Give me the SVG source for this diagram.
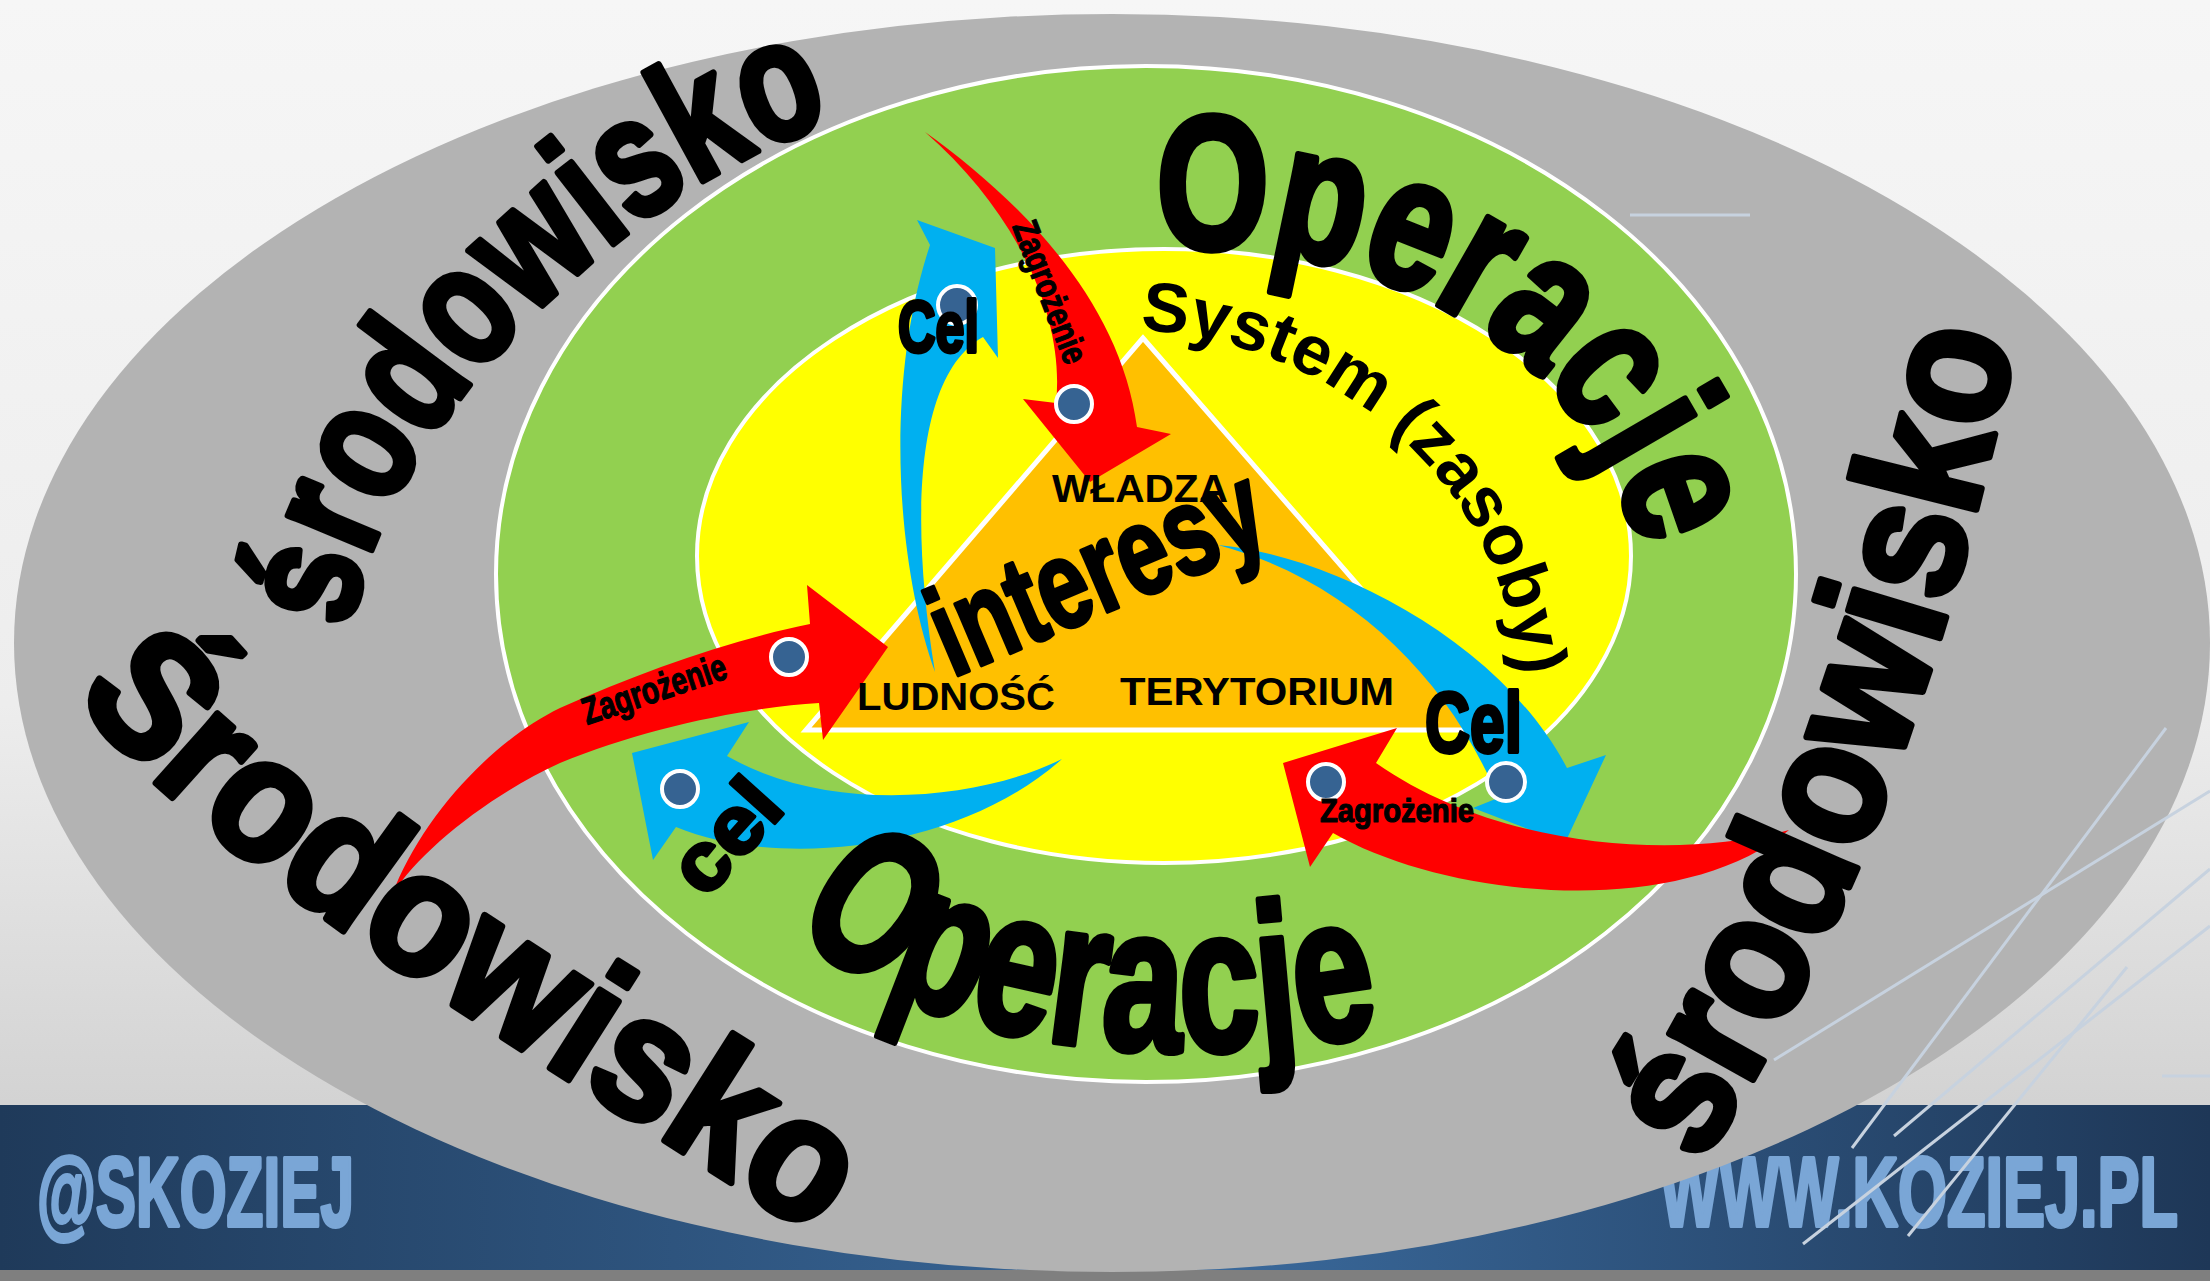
<svg xmlns="http://www.w3.org/2000/svg" width="2210" height="1281" viewBox="0 0 2210 1281">
<defs>
<linearGradient id="bg" x1="0" y1="0" x2="0" y2="1">
<stop offset="0" stop-color="#f6f6f6"/><stop offset="0.55" stop-color="#ededed"/><stop offset="0.86" stop-color="#d3d3d3"/>
</linearGradient>
<linearGradient id="band" x1="0" y1="0" x2="1" y2="0">
<stop offset="0" stop-color="#1f3a5a"/><stop offset="0.55" stop-color="#3a699b"/><stop offset="1" stop-color="#1e3757"/>
</linearGradient>
<path id="tp-ul" d="M 352,630 C 372,430 640,172 840,122"/>
<path id="tp-ll" d="M 75,695 C 215,880 590,1085 821,1242"/>
<path id="tp-r" d="M 1700,1165 C 1865,916 1960,612 2020,318"/>
<path id="tp-ot" d="M 1155,250 C 1420,230 1614,392 1640,560"/>
<path id="tp-ob" d="M 792,925 C 930,1065 1214,1070 1405,1028"/>
<path id="tp-sys" d="M 1140,330 C 1330,340 1510,480 1520,690"/>
<style>
.w{font-family:"Liberation Sans Narrow","Liberation Sans",Arial,sans-serif;font-weight:bold;fill:#000;stroke:#000;stroke-linejoin:round}
.big{stroke-width:7}
.mid{stroke-width:4}
.sm{stroke-width:1.2}
.a{font-family:"Liberation Sans",Arial,sans-serif;font-weight:bold;fill:#000}
.brand{font-family:"Liberation Sans Narrow","Liberation Sans",Arial,sans-serif;font-weight:bold;fill:#7aa6d6;stroke:#7aa6d6;stroke-width:4;stroke-linejoin:round}
.dot{fill:#366392;stroke:#fff;stroke-width:4}
.red{fill:#ff0000}
.blue{fill:#00b0f0}
.ln{stroke:#c7d2df;stroke-width:3;fill:none}
.ring{stroke:#fff;stroke-width:4}
</style>
</defs>
<g id="background">
<rect x="0" y="0" width="2210" height="1281" fill="url(#bg)"/>
<rect x="0" y="1105" width="2210" height="166" fill="url(#band)"/>
<rect x="0" y="1270" width="2210" height="11" fill="#7f7f7f"/>
<text class="brand" x="37" y="1226" font-size="98" textLength="317" lengthAdjust="spacingAndGlyphs">@SKOZIEJ</text>
<text class="brand" x="1660" y="1226" font-size="98" textLength="518" lengthAdjust="spacingAndGlyphs">WWW.KOZIEJ.PL</text>
</g>
<g id="srodowisko-ring">
<ellipse cx="1112" cy="643" rx="1098" ry="629" fill="#b3b3b3"/>
</g>
<g id="decor-lines">
<line class="ln" x1="2166" y1="728" x2="1852" y2="1148"/>
<line class="ln" x1="2210" y1="791" x2="1774" y2="1060"/>
<line class="ln" x1="2210" y1="869" x2="1894" y2="1136"/>
<line class="ln" x1="2210" y1="926" x2="1803" y2="1244"/>
<line class="ln" x1="2127" y1="967" x2="1908" y2="1236"/>
<line class="ln" x1="1630" y1="215" x2="1750" y2="215"/>
<line class="ln" x1="2162" y1="1076" x2="2210" y2="1076"/>
</g>
<g id="operacje-ring">
<ellipse class="ring" cx="1146" cy="574" rx="650" ry="508" fill="#92d050"/>
</g>
<g id="system-ring">
<ellipse class="ring" cx="1164" cy="556" rx="467" ry="307" fill="#ffff00"/>
</g>
<g id="interesy-triangle">
<polygon points="1143,338 806,730 1484,730" fill="#ffc000" stroke="#fff" stroke-width="5" stroke-linejoin="miter"/>
</g>
<g id="connectors">
<path id="cel-up" class="blue" d="M 935,672 C 895,560 885,380 930,245 L 917,220 L 995,248 L 998,358 L 983,337 C 915,375 910,520 935,672 Z"/>
<path id="zagrozenie-top" class="red" d="M 925,132 C 1020,200 1120,300 1137,427 L 1171,434 L 1090,482 L 1023,399 L 1056,403 C 1065,320 1020,215 925,132 Z"/>
<path id="cel-left" class="blue" d="M 1062,759 C 980,800 830,815 727,756 L 749,722 L 632,753 L 653,860 L 676,827 C 780,870 960,850 1062,759 Z"/>
<path id="zagrozenie-left" class="red" d="M 392,895 C 420,820 490,742 560,708 C 640,672 730,640 810,624 L 807,585 L 888,647 L 823,740 L 819,703 C 740,708 640,730 560,763 C 490,795 420,850 392,895 Z"/>
<path id="cel-right" class="blue" d="M 1218,545 C 1330,555 1500,640 1567,768 L 1606,755 L 1565,843 L 1473,808 L 1498,798 C 1450,680 1350,580 1218,545 Z"/>
<path id="zagrozenie-right" class="red" d="M 1789,830 C 1680,860 1500,850 1376,763 L 1397,728 L 1283,763 L 1310,867 L 1333,833 C 1450,900 1680,920 1789,830 Z"/>
<circle class="dot" cx="957" cy="305" r="19"/>
<circle class="dot" cx="1074" cy="404" r="18"/>
<circle class="dot" cx="789" cy="657" r="18"/>
<circle class="dot" cx="680" cy="789" r="18"/>
<circle class="dot" cx="1506" cy="782" r="19"/>
<circle class="dot" cx="1326" cy="782" r="18"/>
</g>
<g id="labels">
<text class="w big" font-size="170"><textPath href="#tp-ul" textLength="730" lengthAdjust="spacingAndGlyphs">środowisko</textPath></text>
<text class="w big" font-size="175"><textPath href="#tp-ll" textLength="920" lengthAdjust="spacingAndGlyphs">Środowisko</textPath></text>
<text class="w big" font-size="180"><textPath href="#tp-r" textLength="890" lengthAdjust="spacingAndGlyphs">środowisko</textPath></text>
<text class="w big" font-size="190"><textPath href="#tp-ot" textLength="620" lengthAdjust="spacingAndGlyphs">Operacje</textPath></text>
<text class="w big" font-size="205"><textPath href="#tp-ob" textLength="620" lengthAdjust="spacingAndGlyphs">Operacje</textPath></text>
<text class="a" font-size="70"><textPath href="#tp-sys" textLength="560" lengthAdjust="spacingAndGlyphs">System (zasoby)</textPath></text>
<text class="w mid" font-size="126" transform="translate(952,678) rotate(-23)" textLength="350" lengthAdjust="spacingAndGlyphs">interesy</text>
<text class="a" x="1052" y="502" font-size="38" textLength="176" lengthAdjust="spacingAndGlyphs">WŁADZA</text>
<text class="a" x="857" y="710" font-size="39" textLength="198" lengthAdjust="spacingAndGlyphs">LUDNOŚĆ</text>
<text class="a" x="1120" y="705" font-size="38" textLength="274" lengthAdjust="spacingAndGlyphs">TERYTORIUM</text>
<text class="w mid" x="898" y="352" font-size="72" textLength="81" lengthAdjust="spacingAndGlyphs">Cel</text>
<text class="w mid" x="1425" y="752" font-size="86" textLength="97" lengthAdjust="spacingAndGlyphs">Cel</text>
<text class="w mid" font-size="82" text-anchor="middle" transform="translate(730,840) rotate(-48)" y="22" textLength="122" lengthAdjust="spacingAndGlyphs">cel</text>
<text class="w sm" font-size="36" text-anchor="middle" transform="translate(1050,292) rotate(69)" y="12" textLength="150" lengthAdjust="spacingAndGlyphs">Zagrożenie</text>
<text class="w sm" font-size="38" transform="translate(587,725) rotate(-18.4)" textLength="150" lengthAdjust="spacingAndGlyphs">Zagrożenie</text>
<text class="w sm" x="1320" y="822" font-size="34" textLength="154" lengthAdjust="spacingAndGlyphs">Zagrożenie</text>
</g>
</svg>
